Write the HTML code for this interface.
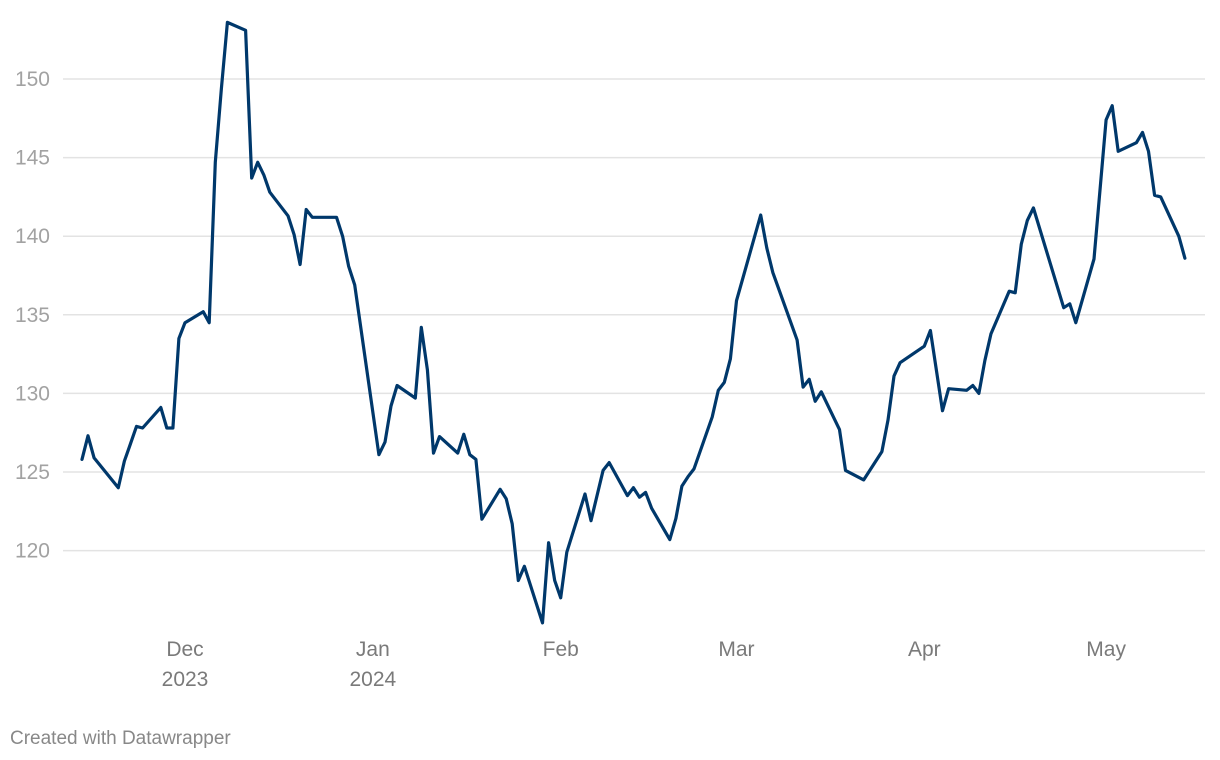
<!DOCTYPE html>
<html><head><meta charset="utf-8"><style>
html,body{margin:0;padding:0;background:#fff;}
svg{display:block;font-family:"Liberation Sans",Arial,sans-serif;}
</style></head><body>
<svg width="1220" height="760" viewBox="0 0 1220 760">
<g id="grid"></g>
<g id="ylabels"></g>
<g id="xlabels"></g>
<path id="line" fill="none" stroke="#00386b" stroke-width="3.2" stroke-linejoin="round" stroke-linecap="round"/>
<text x="10" y="744" font-size="19" fill="#888">Created with Datawrapper</text>
</svg>
<script>
// days offset from 2023-12-01
const days = [-17,-16,-15,-11,-10,-9,-8,-7,-4,-3,-2,-1,0,3,4,5,6,7,10,11,12,13,14,17,18,19,20,21,25,26,27,28,32,33,34,35,38,39,40,41,42,45,46,47,48,49,52,53,54,55,56,59,60,61,62,63,66,67,69,70,73,74,75,76,77,80,81,82,83,84,87,88,89,90,91,95,96,97,101,102,103,104,105,108,109,112,115,116,117,118,122,123,125,126,129,130,131,132,133,136,137,138,139,140,145,146,147,150,152,153,154,157,158,159,160,161,164,165];
const values = [125.8,127.3,125.9,124.0,125.7,126.8,127.9,127.8,129.1,127.8,127.8,133.5,134.5,135.2,134.5,144.7,149.4,153.6,153.1,143.7,144.7,143.9,142.8,141.3,140.1,138.2,141.7,141.2,141.2,140.0,138.1,136.9,126.1,126.9,129.2,130.5,129.7,134.2,131.5,126.2,127.25,126.2,127.4,126.1,125.8,122.0,123.9,123.3,121.7,118.1,119.0,115.4,120.5,118.1,117.0,119.9,123.6,121.9,125.1,125.6,123.5,124.0,123.4,123.7,122.7,120.7,122.05,124.1,124.7,125.2,128.5,130.2,130.7,132.2,135.9,141.35,139.25,137.7,133.4,130.4,130.9,129.5,130.1,127.7,125.1,124.5,126.3,128.3,131.1,131.95,133.0,134.0,128.9,130.3,130.2,130.5,130.0,132.1,133.8,136.5,136.4,139.5,141.0,141.8,135.45,135.7,134.5,138.55,147.4,148.3,145.4,145.95,146.6,145.4,142.6,142.5,140.0,138.6];
const yTicks = [120,125,130,135,140,145,150];
const xTickDays = [0,31,62,91,122,152];
const xTickLabels = ["Dec","Jan","Feb","Mar","Apr","May"];
const xTickYears = ["2023","2024","","","",""];

const X0 = 185, PXD = 6.06, Y150 = 79, PXU = 15.72;
const xs = d => X0 + d * PXD;
const ys = v => Y150 + (150 - v) * PXU;
const NS = "http://www.w3.org/2000/svg";
const grid = document.getElementById('grid');
const yl = document.getElementById('ylabels');
const xl = document.getElementById('xlabels');
yTicks.forEach(t => {
  const l = document.createElementNS(NS,'line');
  
  
  l.setAttribute('x1',63); l.setAttribute('x2',1205);
  l.setAttribute('y1',ys(t)); l.setAttribute('y2',ys(t));
  l.setAttribute('stroke','#e3e3e3'); l.setAttribute('stroke-width','1.5');
  grid.appendChild(l);
  const tx = document.createElementNS(NS,'text');
  
  
  tx.setAttribute('x',50); tx.setAttribute('y',ys(t)+7);
  tx.setAttribute('text-anchor','end'); tx.setAttribute('font-size','21');
  tx.setAttribute('fill','#a2a2a2');
  tx.textContent = t;
  yl.appendChild(tx);
});
xTickDays.forEach((d,i) => {
  const tx = document.createElementNS(NS,'text');
  
  
  tx.setAttribute('x',xs(d)); tx.setAttribute('y',656);
  tx.setAttribute('text-anchor','middle'); tx.setAttribute('font-size','21');
  tx.setAttribute('fill','#7a7a7a');
  tx.textContent = xTickLabels[i];
  xl.appendChild(tx);
  if (xTickYears[i]) {
    const ty = document.createElementNS(NS,'text');
    
    
    ty.setAttribute('x',xs(d)); ty.setAttribute('y',686);
    ty.setAttribute('text-anchor','middle'); ty.setAttribute('font-size','21');
    ty.setAttribute('fill','#7a7a7a');
    ty.textContent = xTickYears[i];
    xl.appendChild(ty);
  }
});
let dstr = '';
days.forEach((d,i) => { dstr += (i ? 'L' : 'M') + xs(d).toFixed(1) + ',' + ys(values[i]).toFixed(1); });
document.getElementById('line').setAttribute('d', dstr);
</script>
</body></html>
